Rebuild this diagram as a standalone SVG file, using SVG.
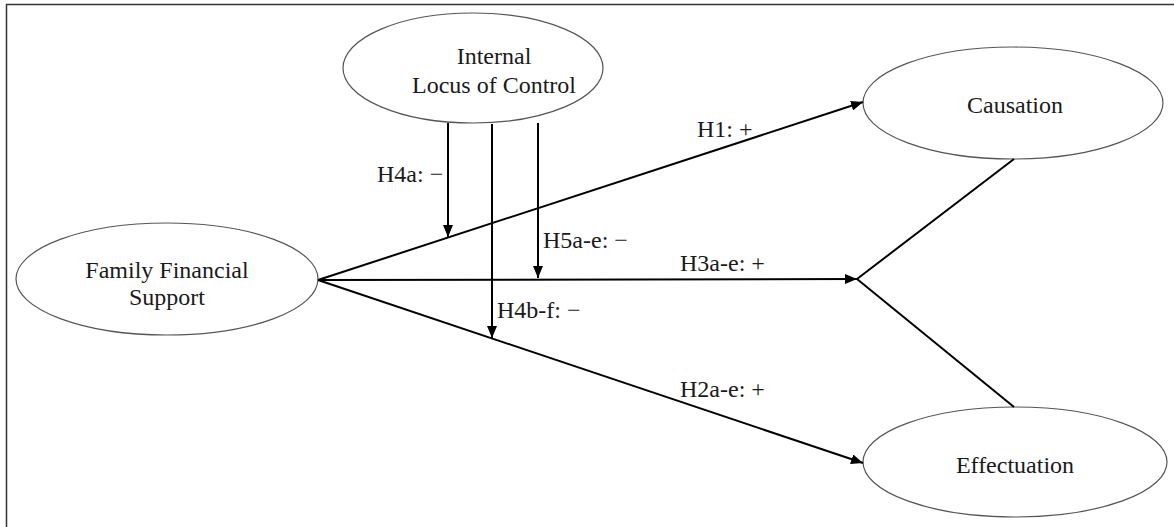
<svg xmlns="http://www.w3.org/2000/svg" width="1174" height="527" viewBox="0 0 1174 527">
<style>
.node ellipse{fill:#fff;stroke:#555;stroke-width:1.2}
.t{font-family:"Liberation Serif","Times New Roman",serif;font-size:24px;fill:#1a1a1a}
.c{text-anchor:middle}
.conn line{stroke:#000;stroke-width:2;fill:none}
.frame{stroke:#333;stroke-width:1.5;fill:none}
</style>
<defs>
<marker id="arr" viewBox="0 0 12 10" refX="12" refY="5" markerWidth="12" markerHeight="10" markerUnits="userSpaceOnUse" orient="auto">
<path d="M0,0 L12,5 L0,10 Z" fill="#000"/>
</marker>
</defs>
<rect width="1174" height="527" fill="#fff"/>
<path class="frame" d="M6.5,527 V4.5 H1174"/>
<g id="node-ilc" class="node">
<ellipse cx="473" cy="68" rx="130" ry="55"/>
<text class="t c" x="494" y="64">Internal</text>
<text class="t c" x="494" y="93">Locus of Control</text>
</g>
<g id="node-ffs" class="node">
<ellipse cx="167" cy="279" rx="151" ry="56"/>
<text class="t c" x="167" y="278">Family Financial</text>
<text class="t c" x="167" y="305">Support</text>
</g>
<g id="node-causation" class="node">
<ellipse cx="1013" cy="103" rx="150" ry="56"/>
<text class="t c" x="1015" y="113">Causation</text>
</g>
<g id="node-effectuation" class="node">
<ellipse cx="1015" cy="462" rx="152" ry="55"/>
<text class="t c" x="1015" y="473">Effectuation</text>
</g>
<g id="connectors" class="conn">
<line x1="318" y1="280" x2="863" y2="102" marker-end="url(#arr)"/>
<line x1="318" y1="280" x2="857" y2="279" marker-end="url(#arr)"/>
<line x1="318" y1="280" x2="863" y2="463" marker-end="url(#arr)"/>
<line x1="857" y1="279" x2="1014" y2="159"/>
<line x1="857" y1="279" x2="1014" y2="407"/>
<line x1="448" y1="123" x2="448" y2="237" marker-end="url(#arr)"/>
<line x1="492" y1="124" x2="492" y2="338" marker-end="url(#arr)"/>
<line x1="538" y1="123" x2="538" y2="278" marker-end="url(#arr)"/>
</g>
<g id="labels">
<text class="t" x="697" y="137">H1: +</text>
<text class="t" x="377" y="182">H4a: −</text>
<text class="t" x="543" y="248">H5a-e: −</text>
<text class="t" x="680" y="271">H3a-e: +</text>
<text class="t" x="497" y="318">H4b-f: −</text>
<text class="t" x="680" y="397">H2a-e: +</text>
</g>
</svg>
